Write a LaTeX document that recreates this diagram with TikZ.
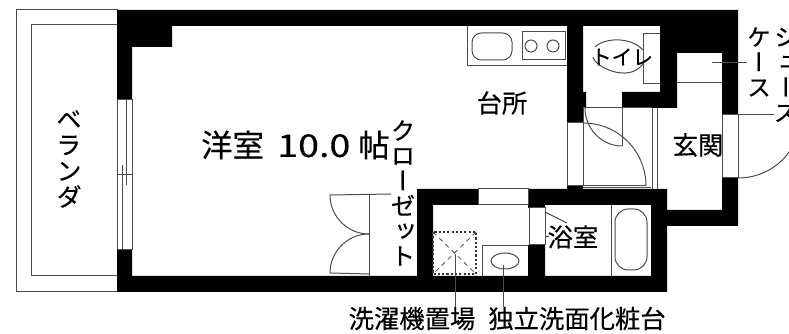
\documentclass[tikz,border=0pt]{standalone}
\usepackage{fontspec}
\newfontfamily\jpfont[RawFeature={embolden=0.35}]{Noto Sans CJK JP}
\newfontfamily\jpvfont[RawFeature={+vert;embolden=0.35}]{Noto Sans CJK JP}
\usetikzlibrary{calc,positioning}
\tikzset{
  thinline/.style={draw=black!70,line width=0.75pt},
  dotline/.style={draw=black!80,line width=0.9pt,dash pattern=on 1.6pt off 1.6pt},
  dashline/.style={draw=black!70,line width=0.6pt,dash pattern=on 3.5pt off 3pt},
  roomlabel/.style={font=\jpfont\fontsize{19}{19}\selectfont,inner sep=0pt},
  vlabel/.style={font=\jpvfont\fontsize{18}{18.8}\selectfont,inner sep=0pt,align=center}
}
\begin{document}
\begin{tikzpicture}[x=0.75pt,y=-0.75pt]
  \useasboundingbox (0,0) rectangle (789,334);
  \clip (0,0) rectangle (789,334);
  % balcony
  \draw[thinline] (16,10) rectangle (117,292);
  \draw[thinline] (31,25) rectangle (117,276);
  % walls
  \fill[black] (117,10) rectangle (738,26)
    (117,10) rectangle (132,100)
    (117,10) rectangle (172,47)
    (117,250) rectangle (132,292)
    (117,276) rectangle (667,292)
    (567,10) rectangle (583,123)
    (567,92) rectangle (586,108)
    (567,186) rectangle (583,205)
    (660,10) rectangle (738,53)
    (660,10) rectangle (677,108)
    (622,92) rectangle (677,108)
    (722,10) rectangle (738,115)
    (722,178) rectangle (738,226)
    (651,210) rectangle (738,226)
    (651,189) rectangle (667,292)
    (417,189) rectangle (478,205)
    (528,189) rectangle (667,205)
    (528,189) rectangle (545,208)
    (417,189) rectangle (433,292)
    (528,245) rectangle (545,292);
  % window
  \draw[thinline] (117,100) rectangle (132,250);
  \draw[thinline] (122,165) -- (122,250);
  \draw[thinline] (126,100) -- (126,185);
  \draw[thinline] (117,175) -- (132,175);
  \draw[thinline] (478,189) rectangle (528,205);
  % kitchen
  \draw[thinline] (467,26) -- (467,66) -- (567,66);
  \draw[thinline,rounded corners=7] (472,33) rectangle (512,60);
  \draw[thinline] (522,32) rectangle (565,60);
  \draw[thinline] (531,46) circle (6);
  \draw[thinline] (553,46) circle (6);
  % toilet
  \draw[thinline] (660,34) -- (643,34) -- (643,84) -- (660,84);
  \draw[thinline] (643,50) .. controls (630,36) and (604,38) .. (595,47);
  \draw[thinline] (593,57) .. controls (594,66) and (628,84) .. (643,64);
  % doors
  \draw[thinline] (567,123) rectangle (583,186);
  \draw[thinline] (583,108) -- (583,186) -- (646,186);
  \draw[thinline] (583,108) -- (652,108);
  \draw[thinline] (622,108) -- (622,146);
  \draw[thinline] (585,108) .. controls (585,128.5) and (601.5,146) .. (622,146);
  \draw[thinline] (583,123) .. controls (618,123) and (646,151) .. (646,186);
  \draw[thinline] (583,188) -- (651,188);
  \draw[thinline] (652,108) -- (652,189);
  \draw[thinline] (657,108) -- (657,189);
  \draw[thinline] (677,83) -- (722,83);
  \draw[thinline] (722,115) rectangle (738,178);
  \draw[thinline] (738,178) .. controls (773,178) and (801,150) .. (801,115);
  % bath
  \draw[thinline] (545,208) rectangle (529,245);
  \draw[thinline] (545,212) -- (567,223);
  \draw[thinline] (545,237) -- (549,236);
  \draw[thinline] (611,205) -- (611,276);
  \draw[thinline,rounded corners=10] (615,209) rectangle (647,270);
  % washroom
  \draw[dotline] (433,232) rectangle (476,274);
  \draw[dashline] (433,232) -- (476,274);
  \draw[dashline] (476,232) -- (433,274);
  \draw[thinline] (482,276) -- (482,246) -- (528,246);
  \draw[thinline] (505,261) ellipse (14 and 8);
  % closet
  \draw[thinline] (391,194) -- (330,195);
  \draw[thinline] (369,194) -- (369,276);
  \draw[thinline] (330,195) .. controls (330,216) and (347,234) .. (369,234);
  \draw[thinline] (330,273) .. controls (330,252) and (347,234) .. (369,234);
  \draw[thinline] (330,273) -- (369,274);
  % labels
  \node[vlabel,font=\jpvfont\fontsize{19}{19.5}\selectfont] (veranda) at (69,159) {ベ\\ラ\\ン\\ダ};
  \node[roomlabel,font=\jpfont\fontsize{23.5}{23.5}\selectfont,anchor=west] (youshitsu) at (201,145)
    {洋室\hspace{10pt}\scalebox{1.2}[1]{10.0}\hspace{6pt}帖};
  \node[vlabel,font=\jpvfont\fontsize{18.5}{18.8}\selectfont] (closet) at (403,193) {ク\\ロ\\ー\\ゼ\\ッ\\ト};
  \node[roomlabel] (kitchen) at (502,103) {台所};
  \node[roomlabel] (genkan) at (698,145) {玄関};
  \node[roomlabel] (bathroom) at (573,237) {浴室};
  \node[roomlabel,font=\jpfont\fontsize{15.5}{15.5}\selectfont] (toilet) at (622,57) {トイレ};
  \node[roomlabel] (washerlabel) at (412,318.5) {洗濯機置場};
  \node[roomlabel] (vanitylabel) at (577,318.5) {独立洗面化粧台};
  \node[vlabel] (caselabel) at (759,62) {ケ\\ー\\ス};
  \node[vlabel] (shoeslabel) at (786,75) {シ\\ュ\\ー\\ズ};
  % leaders
  \coordinate (washer) at (455,254);
  \coordinate (vanity) at (503,265);
  \coordinate (shoecase) at (712,63);
  \coordinate (shoedoor) at (738,115);
  \draw[thinline] (washer) -- (washer |- washerlabel.north);
  \draw[thinline] (vanity) -- (vanity |- vanitylabel.north);
  \draw[thinline] (shoecase) -- (caselabel.west |- shoecase);
  \draw[thinline] (shoedoor) -- (shoeslabel.west |- shoedoor);
\end{tikzpicture}
\end{document}
